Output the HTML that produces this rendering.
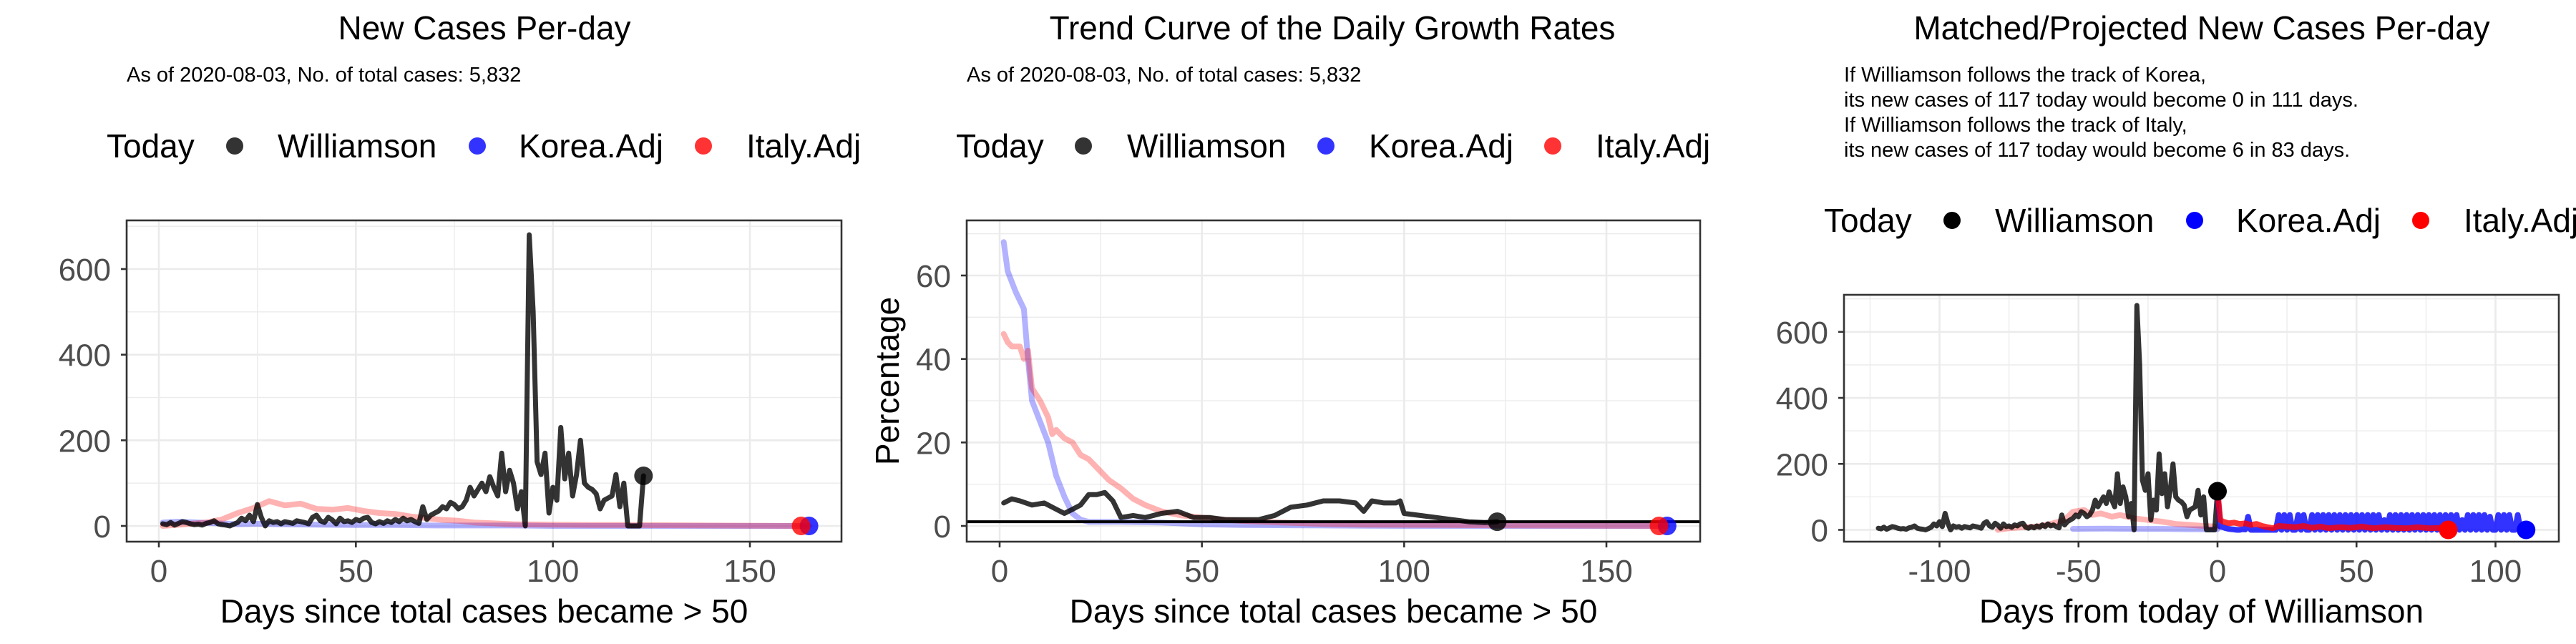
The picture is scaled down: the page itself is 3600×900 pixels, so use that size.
<!DOCTYPE html>
<html><head><meta charset="utf-8"><style>
html,body{margin:0;padding:0;background:#fff;}
svg{display:block;font-family:"Liberation Sans",Arial,sans-serif;}
</style></head><body>
<svg id="chart" width="3600" height="900" viewBox="0 0 3600 900" xmlns="http://www.w3.org/2000/svg">
<defs>
<clipPath id="c0"><rect x="0" y="0" width="1200" height="900"/></clipPath>
<clipPath id="c1"><rect x="1200" y="0" width="1200" height="900"/></clipPath>
<clipPath id="c2"><rect x="2400" y="0" width="1200" height="900"/></clipPath>
</defs>
</svg>
<script>
// ---- Panel 1: new cases per day ----
const p1WillVals = [5,3,8,2,6,10,8,5,3,4, 2,6,8,12,5,3,2,0,4,8, 18,12,25,10,50,20,0,12,8,10, 5,10,8,6,12,10,8,5,20,25, 12,8,20,14,5,18,10,12,8,15, 12,18,20,8,5,10,6,12,8,15, 10,18,12,15,10,6,45,15,25,30, 35,45,40,55,50,40,45,60,90,70, 85,100,80,115,90,70,170,80,130,100, 40,80,0,680,500,150,120,170,30,90, 60,230,110,170,70,120,200,100,90,85, 75,40,60,65,70,120,45,100,0,0, 0,0,117];
const p1KoreaDays = [1,5,10,15,20,25,30,40,50,60,70,80,90,100,120,140,165];
const p1KoreaVals = [8,10,8,6,4,5,4,3,2,2,1,1,1,0,0,0,0];
const p1ItalyDays = [1,4,8,12,16,20,24,28,32,36,40,44,48,52,56,60,64,68,72,76,80,85,90,100,110,120,140,163];
const p1ItalyVals = [0,2,5,8,15,30,42,58,48,52,40,38,42,35,30,28,22,18,14,12,8,6,4,3,2,2,1,0];
const p1XTicks = [0,50,100,150];
const p1YTicks = [0,200,400,600];
// ---- Panel 2: growth rates ----
const p2WillDays = [1,3,5,8,11,14,16,18,20,22,24,26,28,30,33,36,40,44,48,52,56,60,64,68,72,76,80,84,88,90,92,95,98,99,100,104,108,112,116,120,123];
const p2WillVals = [5.5,6.5,6,5,5.5,4,3,4,5,7.5,7.5,8,6,2,2.5,2,3,3.5,2,2,1.5,1.5,1.5,2.5,4.5,5,6,6,5.5,3.5,6,5.5,5.5,6,3,2.5,2,1.5,1,0.8,1];
const p2KoreaDays = [1,2,4,6,7,8,10,12,14,16,18,20,22,30,40,50,60,80,100,130,165];
const p2KoreaVals = [68,61,56,52,40,30,25,20,12,7,3,1.5,1,1,0.8,0.4,0.2,0.1,0,0,0];
const p2ItalyDays = [1,2,3,5,6,7,8,10,12,13,14,16,18,20,22,24,27,30,33,36,40,45,50,55,60,70,80,90,110,130,163];
const p2ItalyVals = [46,44,43,43,40,42,33,30,26,22,23,21,20,17,16,14,11,9,6.5,5,3.5,2.5,2,1.5,1.2,0.8,0.5,0.3,0.2,0.1,0];
const p2RefLine = 1;
const p2XTicks = [0,50,100,150];
const p2YTicks = [0,20,40,60];
// ---- Panel 3: matched / projected ----
const p3ItalyPastDays = [-79,-75,-70,-65,-60,-55,-52,-48,-45,-42,-38,-35,-30,-25,-20,-15,-10,-5,0];
const p3ItalyPastVals = [0,5,8,10,18,30,55,60,45,50,40,45,35,30,25,18,15,12,10];
const p3KoreaPastDays = [-52,-40,-30,-20,-10,0];
const p3KoreaPastVals = [3,4,3,3,2,2];
const p3ItalyProjDays = [0,1,2,4,6,8,10,12,14,16,18,20,22,25,28,31,34,37,40,44,48,52,56,60,64,68,72,76,80,83];
const p3ItalyProjVals = [117,30,25,20,22,18,20,15,18,12,8,5,12,10,8,12,6,10,5,8,6,10,5,8,6,5,8,5,6,6];
const p3KoreaProjVals = [117, 10,8,5,3,2,1,0,0,2,1, 40,0,0,0,0,0,0,0,0,0, 0,45,0,45,0,45,0,0,45,0, 45,0,0,45,0,
 45,0,45,0,45,0,45,0,45,0,45,0,45,0,45,
 0,45,0,45,0,45,0,45,0,30,0,45,0,45,0,
 45,0,45,0,45,0,45,0,45,0,45,0,45,0,45,
 0,45,0,45,0,45,0,30,0,45,0,45,0,45,0,
 45,0,40,0,0,45,0,45,0,45,0,0,45,0,0,0];
const p3ItalyEnd = [83,6];
const p3XTicks = [-100,-50,0,50,100];
const p3YTicks = [0,200,400,600];

const NS = "http://www.w3.org/2000/svg";
const svg = document.getElementById('chart');
function mk(tag, attrs, parent){ const e=document.createElementNS(NS,tag); for(const k in attrs) e.setAttribute(k,attrs[k]); (parent||svg).appendChild(e); return e; }
function txt(parent,x,y,s,size,opts){ const t=mk('text',Object.assign({x:x,y:y,'font-size':size,fill:'#000'},opts||{}),parent); t.textContent=s; return t; }
function lin(x0,x1,p0,p1){ const f=v=>p0+(v-x0)*(p1-p0)/(x1-x0); return f; }
function path(g,xs,ys,sx,sy,color,w,op,name){
  let d=''; xs.forEach((x,i)=>{ d+=(i?'L':'M')+sx(x).toFixed(1)+' '+sy(ys[i]).toFixed(1); });
  const p=mk('path',{d:d,fill:'none',stroke:color,'stroke-width':w,'stroke-opacity':op,'stroke-linejoin':'round','stroke-linecap':'round'},g);
  
  
  return p;
}
function dot(g,x,y,color,op,r,name){
  const c=mk('circle',{cx:x,cy:y,r:r,fill:color,'fill-opacity':op},g);
  
  
  return c;
}

function panel(cfg){
  const g=mk('g',{'clip-path':'url(#'+cfg.clip+')'});
  
  
  const B=cfg.box;
  const sx=cfg.sx, sy=cfg.sy;
  const t=txt(g,cfg.titleX,55,cfg.title,46,{'text-anchor':'middle'});
  
  
  cfg.sub.forEach((s,i)=>{ const st=txt(g,cfg.subX,cfg.subY[i],s,29);
    
     });
  const L=cfg.leg, ly=cfg.legY;
  const lg=mk('g',{},g);
  
  
  const lt=txt(lg,L[0],ly+16,'Today',46);  
  const names=['Williamson','Korea.Adj','Italy.Adj'];
  for(let i=0;i<3;i++){
    dot(lg,L[1+2*i],ly,cfg.legCols[i],cfg.legOp,12,'legend-key-'+names[i].toLowerCase().replace('.','-'));
    const e=txt(lg,L[2+2*i],ly+16,names[i],46);
    
    
  }
  cfg.xMinor.forEach(v=>mk('line',{x1:sx(v),x2:sx(v),y1:B.t,y2:B.b,stroke:'#ebebeb','stroke-width':1.3},g));
  cfg.yMinor.forEach(v=>mk('line',{x1:B.l,x2:B.r,y1:sy(v),y2:sy(v),stroke:'#ebebeb','stroke-width':1.3},g));
  cfg.xTicks.forEach(v=>mk('line',{x1:sx(v),x2:sx(v),y1:B.t,y2:B.b,stroke:'#ebebeb','stroke-width':2.6},g));
  cfg.yTicks.forEach(v=>mk('line',{x1:B.l,x2:B.r,y1:sy(v),y2:sy(v),stroke:'#ebebeb','stroke-width':2.6},g));
  const pg=mk('g',{},g);
  
  
  cfg.draw(pg);
  mk('rect',{x:B.l,y:B.t,width:B.r-B.l,height:B.b-B.t,fill:'none',stroke:'#333','stroke-width':2.6},g);
  cfg.xTicks.forEach(v=>{ mk('line',{x1:sx(v),x2:sx(v),y1:B.b,y2:B.b+8,stroke:'#333','stroke-width':2.6},g);
    const e=txt(g,sx(v),B.b+56,String(v),44,{'text-anchor':'middle',fill:'#4d4d4d'});
      });
  cfg.yTicks.forEach(v=>{ mk('line',{x1:B.l-8,x2:B.l,y1:sy(v),y2:sy(v),stroke:'#333','stroke-width':2.6},g);
    const e=txt(g,B.l-22,sy(v)+16,String(v),44,{'text-anchor':'end',fill:'#4d4d4d'});
      });
  const xt=txt(g,(B.l+B.r)/2,870,cfg.xTitle,46,{'text-anchor':'middle'});
   
  if(cfg.yTitle){ const yt=txt(g,0,0,cfg.yTitle,46,{'text-anchor':'middle',transform:'translate('+(B.l-95)+','+((B.t+B.b)/2)+') rotate(-90)'});
      }
}

const days123 = p1WillVals.map((v,i)=>i+1);
const BLACK='#333333', BLUE='#3333ff', RED='#ff3333';

(function(){
  const B={l:177,r:1176,t:308,b:757};
  const sx=lin(0,150,222,1048), sy=lin(0,600,735,376);
  panel({name:'new-cases-panel',clip:'c0',box:B,sx:sx,sy:sy,title:'New Cases Per-day',titleX:677,
    sub:['As of 2020-08-03, No. of total cases: 5,832'],subX:177,subY:[114],
    leg:[149,328,388,667,725,983,1043],legY:204,legCols:[BLACK,BLUE,RED],legOp:1,
    xTicks:p1XTicks,yTicks:p1YTicks,xMinor:[25,75,125],yMinor:[100,300,500,700],
    xTitle:'Days since total cases became > 50',
    draw:function(g){
      path(g,p1KoreaDays,p1KoreaVals,sx,sy,'#0000ff',8,0.3,'korea-line');
      path(g,p1ItalyDays,p1ItalyVals,sx,sy,'#ff0000',8,0.3,'italy-line');
      path(g,days123,p1WillVals,sx,sy,'#000',7,0.8,'williamson-line');
      dot(g,sx(123),sy(p1WillVals[122]),'#000',0.8,13,'williamson-today-point');
      dot(g,sx(p1KoreaDays[p1KoreaDays.length-1]),sy(0),'#0000ff',0.8,13,'korea-end-point');
      dot(g,sx(p1ItalyDays[p1ItalyDays.length-1]),sy(0),'#ff0000',0.8,13,'italy-end-point');
    }});
})();

(function(){
  const B={l:1351,r:2376,t:308,b:757};
  const sx=lin(0,150,1397,2245), sy=lin(0,60,735,385);
  panel({name:'growth-rate-panel',clip:'c1',box:B,sx:sx,sy:sy,title:'Trend Curve of the Daily Growth Rates',titleX:1862,
    sub:['As of 2020-08-03, No. of total cases: 5,832'],subX:1351,subY:[114],
    leg:[1336,1514,1575,1853,1913,2170,2230],legY:204,legCols:[BLACK,BLUE,RED],legOp:1,
    xTicks:p2XTicks,yTicks:p2YTicks,xMinor:[25,75,125],yMinor:[10,30,50,70],
    xTitle:'Days since total cases became > 50',yTitle:'Percentage',
    draw:function(g){
      path(g,p2KoreaDays,p2KoreaVals,sx,sy,'#0000ff',8,0.3,'korea-growth-line');
      path(g,p2ItalyDays,p2ItalyVals,sx,sy,'#ff0000',8,0.3,'italy-growth-line');
      path(g,p2WillDays,p2WillVals,sx,sy,'#000',7,0.8,'williamson-growth-line');
      const r=mk('line',{x1:B.l,x2:B.r,y1:sy(p2RefLine),y2:sy(p2RefLine),stroke:'#000','stroke-width':4},g);
       
      dot(g,sx(123),sy(p2WillVals[p2WillVals.length-1]),'#000',0.8,13,'williamson-today-point');
      dot(g,sx(p2KoreaDays[p2KoreaDays.length-1]),sy(0),'#0000ff',0.8,13,'korea-end-point');
      dot(g,sx(p2ItalyDays[p2ItalyDays.length-1]),sy(0),'#ff0000',0.8,13,'italy-end-point');
    }});
})();

(function(){
  const B={l:2577,r:3576,t:412,b:757};
  const sx=lin(0,100,3099,3487.5), sy=lin(0,600,740.5,463.8);
  const wDays=days123.map(d=>d-123);
  const kDays=p3KoreaProjVals.map((v,i)=>i);
  panel({name:'projection-panel',clip:'c2',box:B,sx:sx,sy:sy,title:'Matched/Projected New Cases Per-day',titleX:3077,
    sub:['If Williamson follows the track of Korea,','its new cases of 117 today would become 0 in 111 days.','If Williamson follows the track of Italy,','its new cases of 117 today would become 6 in 83 days.'],
    subX:2577,subY:[114,149,184,219],
    leg:[2549,2728,2788,3067,3125,3383,3443],legY:308,legCols:['#000','#0000ff','#ff0000'],legOp:1,
    xTicks:p3XTicks,yTicks:p3YTicks,xMinor:[-125,-75,-25,25,75],yMinor:[100,300,500,700],
    xTitle:'Days from today of Williamson',
    draw:function(g){
      path(g,p3KoreaPastDays,p3KoreaPastVals,sx,sy,'#0000ff',8,0.3,'korea-matched-line');
      path(g,p3ItalyPastDays,p3ItalyPastVals,sx,sy,'#ff0000',8,0.3,'italy-matched-line');
      path(g,wDays,p1WillVals,sx,sy,'#000',7,0.8,'williamson-line');
      path(g,kDays,p3KoreaProjVals,sx,sy,'#0000ff',8,0.8,'korea-projected-line');
      path(g,p3ItalyProjDays,p3ItalyProjVals,sx,sy,'#ff0000',8,0.8,'italy-projected-line');
      dot(g,sx(0),sy(117),'#000',1,13,'williamson-today-point');
      dot(g,sx(kDays.length-1),sy(0),'#0000ff',1,13,'korea-end-point');
      dot(g,sx(p3ItalyEnd[0]),sy(0),'#ff0000',1,13,'italy-end-point');
    }});
})();
</script>
</body></html>
